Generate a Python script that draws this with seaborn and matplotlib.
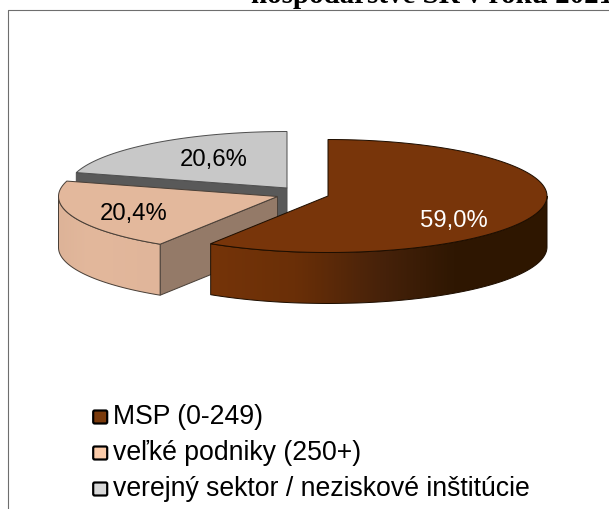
import numpy as np
import matplotlib
matplotlib.use("Agg")
import matplotlib.pyplot as plt
from matplotlib.patches import Polygon, FancyBboxPatch
from matplotlib.colors import LinearSegmentedColormap
import seaborn as sns

categories = ["MSP (0-249)", "veľké podniky (250+)", "verejný sektor / neziskové inštitúcie"]
values = [59.0, 20.4, 20.6]
value_labels = ["59,0%", "20,4%", "20,6%"]
title_line = "hospodárstve SR v roku 2021"

top_colors = ["#78350A", "#E3B89C", "#C8C8C8"]
legend_colors = ["#7A3A0C", "#FBCBA9", "#D9D9D9"]
edge_colors = ["#1E0E00", "#4A4038", "#505050"]
apexes = [(328, 196), (277.5, 196.5), (287, 188)]
label_pos = [(454, 221), (134, 214), (214, 160)]
label_colors = ["white", "black", "black"]
RX, RY, DEPTH = 219, 56.5, 51

sns.set_theme(style="white")
plt.rcParams["font.family"] = ["Liberation Sans", "DejaVu Sans"]

fig = plt.figure(figsize=(6.09, 5.09), dpi=100)
ax = fig.add_axes([0, 0, 1, 1])
ax.axis("off")
px = 0.72


def point(apex, deg):
    a = np.radians(deg)
    return apex[0] + RX * np.sin(a), apex[1] - RY * np.cos(a)


def arc(apex, a0, a1, n=120):
    t = np.radians(np.linspace(a0, a1, n))
    return np.column_stack([apex[0] + RX * np.sin(t), apex[1] - RY * np.cos(t)])


def gradient_fill(verts, stops, zorder):
    verts = np.asarray(verts)
    x0, x1 = verts[:, 0].min(), verts[:, 0].max()
    y0, y1 = verts[:, 1].min(), verts[:, 1].max()
    cmap = LinearSegmentedColormap.from_list("g", stops)
    im = ax.imshow(np.linspace(0, 1, 256)[None, :], cmap=cmap, extent=(x0, x1, y1, y0),
                   aspect="auto", zorder=zorder, interpolation="bilinear")
    clip = Polygon(verts, closed=True, transform=ax.transData, fc="none", ec="none")
    ax.add_patch(clip)
    im.set_clip_path(clip)


fracs = np.array(values) / sum(values) * 360
starts = np.concatenate([[0], np.cumsum(fracs)[:-1]])
ends = starts + fracs

# sectors are drawn back to front: gray, peach, brown
side_stops = {
    0: [(0, "#753409"), (0.25, "#6A2F07"), (0.5, "#47220A"), (0.72, "#2F1702"), (1, "#2E1600")],
    1: [(0, "#DDB398"), (0.3, "#E3B89C"), (1, "#E0B59A")],
}
inner_colors = {1: "#947A68", 2: "#595959"}

for z, i in enumerate([2, 1, 0]):
    base = 2 + z * 5
    apex = apexes[i]
    a0, a1 = starts[i], ends[i]
    ec = edge_colors[i]
    # flat cut face turned to the viewer
    if i in inner_colors:
        p = point(apex, a0)
        face = [apex, p, (p[0], p[1] + DEPTH), (apex[0], apex[1] + DEPTH)]
        ax.add_patch(Polygon(face, closed=True, fc=inner_colors[i], ec=ec, lw=px, zorder=base))
    # curved outer wall, front half only
    lo, hi = max(a0, 90), min(a1, 270)
    if i in side_stops and hi > lo:
        upper = arc(apex, lo, hi)
        lower = upper[::-1] + [0, DEPTH]
        wall = np.vstack([upper, lower])
        gradient_fill(wall, side_stops[i], base + 1)
        ax.add_patch(Polygon(wall, closed=True, fc="none", ec=ec, lw=px, zorder=base + 2))
    # top face
    top = np.vstack([[apex], arc(apex, a0, a1)])
    ax.add_patch(Polygon(top, closed=True, fc=top_colors[i], ec=ec, lw=px, zorder=base + 3))
    ax.text(label_pos[i][0], label_pos[i][1], value_labels[i], color=label_colors[i],
            fontsize=17.2, ha="center", va="center", zorder=30)

# chart frame (only top and left are inside the crop)
ax.plot([8, 8, 609], [509, 9.5, 9.5], color="#6E6E6E", lw=1.1 * px, zorder=1)

ax.text(251, 3, title_line, family=["Liberation Serif"], weight="bold", fontsize=20.9,
        color="black", ha="left", va="baseline", zorder=31, clip_on=False)

# legend
rows = [417, 453, 489]
for y, name, col in zip(rows, categories, legend_colors):
    ax.add_patch(FancyBboxPatch((93.2, y - 6.5), 14, 13, boxstyle="round,pad=0,rounding_size=1.5",
                                fc=col, ec="black", lw=2.2 * px, zorder=10))
    ax.text(113, y, name, fontsize=19.2, color="black", ha="left", va="center", zorder=31)

ax.set_xlim(0, 609)
ax.set_ylim(509, 0)
fig.savefig("out.png", dpi=100)
